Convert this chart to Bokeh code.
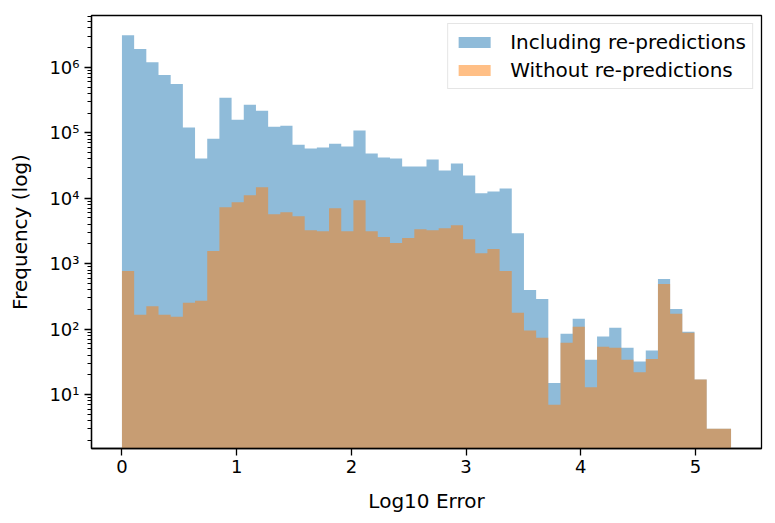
import numpy as np
from bokeh.plotting import figure
from bokeh.models import Range1d, FixedTicker, CustomJSTickFormatter, Legend, LegendItem
from bokeh.embed import file_html
from bokeh.resources import INLINE

# ---- data ----
X_MIN = 0.0
X_MAX = 5.31
N_BINS = 50

including = [3100000, 1900000, 1200000, 764000, 557000, 120000, 40400, 81300, 342000, 158000,
             268000, 217000, 124000, 128000, 65900, 57300, 59400, 68300, 61500, 108000,
             48200, 41900, 40400, 30500, 30500, 39000, 26600, 33900, 22300, 11900,
             12700, 14100, 2920, 398, 290, 15, 85, 144, 34, 77,
             105, 52, 32, 47, 583, 204, 91, 17, 3, 3]

without = [775, 166, 223, 166, 155, 253, 271, 1560, 7280, 8670,
           11100, 14700, 5690, 6100, 5310, 3250, 3140, 7030, 3140, 9290,
           3140, 2550, 2070, 2460, 3370, 3250, 3490, 3870, 2370, 1450,
           1670, 775, 178, 95, 74, 7, 62, 109, 13, 54,
           52, 34, 22, 35, 490, 172, 88, 17, 3, 3]

labels = ["Including re-predictions", "Without re-predictions"]
x_ticks = [0, 1, 2, 3, 4, 5]
y_major = [10, 100, 1000, 10000, 100000, 1000000]

# ---- derived ----
edges = np.linspace(X_MIN, X_MAX, N_BINS + 1)
BASE = 1.0
inc_step = list(including) + [including[-1]]
wo_step = list(without) + [without[-1]]

span = X_MAX - X_MIN
lo_log = np.log10(min(min(including), min(without)))
hi_log = np.log10(max(max(including), max(without)))
pad = (hi_log - lo_log) * 0.05

FONT = "DejaVu Sans"

p = figure(width=767, height=520, y_axis_type="log",
           x_range=Range1d(X_MIN - 0.05 * span, X_MAX + 0.05 * span),
           y_range=Range1d(10 ** (lo_log - pad), 10 ** (hi_log + pad)),
           output_backend="svg", toolbar_location=None,
           min_border_left=91, min_border_right=6, min_border_top=15, min_border_bottom=72)

r1 = p.varea_step(x=edges, y1=[BASE] * len(edges), y2=inc_step, step_mode="after",
                  fill_color="#1f77b4", fill_alpha=0.5)
r2 = p.varea_step(x=edges, y1=[BASE] * len(edges), y2=wo_step, step_mode="after",
                  fill_color="#ff7f0e", fill_alpha=0.5)

minor = [k * 10 ** n for n in range(0, 7) for k in range(2, 10)]
p.yaxis.ticker = FixedTicker(ticks=y_major, minor_ticks=minor)
p.xaxis.ticker = FixedTicker(ticks=x_ticks)
p.yaxis.formatter = CustomJSTickFormatter(code="""
const sup = {'0':'\u2070','1':'\u00b9','2':'\u00b2','3':'\u00b3','4':'\u2074','5':'\u2075','6':'\u2076','7':'\u2077','8':'\u2078','9':'\u2079','-':'\u207b'};
const e = Math.round(Math.log10(tick));
return '10' + String(e).split('').map(c => sup[c]).join('');
""")

p.xgrid.grid_line_color = None
p.ygrid.grid_line_color = None
p.outline_line_color = "black"
p.outline_line_width = 1.3
p.outline_line_alpha = 1.0

for ax in (p.xaxis[0], p.yaxis[0]):
    ax.axis_line_color = "black"
    ax.axis_line_width = 1.3
    ax.major_tick_line_color = "black"
    ax.major_tick_line_width = 1.3
    ax.major_tick_in = 0
    ax.major_tick_out = 7
    ax.minor_tick_in = 0
    ax.minor_tick_out = 4
    ax.minor_tick_line_color = "black"
    ax.minor_tick_line_width = 1
    ax.major_label_text_font = FONT
    ax.major_label_text_font_size = "18px"
    ax.major_label_text_color = "black"
    ax.axis_label_text_font = FONT
    ax.axis_label_text_font_size = "20px"
    ax.axis_label_text_font_style = "normal"
    ax.axis_label_text_color = "black"

p.xaxis.minor_tick_line_color = None
p.xaxis.axis_label = "Log10 Error"
p.yaxis.axis_label = "Frequency (log)"
p.xaxis.major_label_standoff = 4
p.xaxis.axis_label_standoff = 13
p.yaxis.major_label_standoff = 5
p.yaxis.axis_label_standoff = 14

legend = Legend(items=[LegendItem(label=labels[0], renderers=[r1]),
                       LegendItem(label=labels[1], renderers=[r2])],
                location="top_right")
legend.label_text_font = FONT
legend.label_text_font_size = "20px"
legend.label_text_color = "black"
legend.glyph_width = 40
legend.glyph_height = 14
legend.label_standoff = 16
legend.spacing = 4
legend.padding = 6
legend.margin = 8
legend.border_line_color = "#cccccc"
legend.border_line_width = 1
legend.background_fill_alpha = 0.8
p.add_layout(legend)

open("out.html", "w").write(file_html(p, INLINE))
